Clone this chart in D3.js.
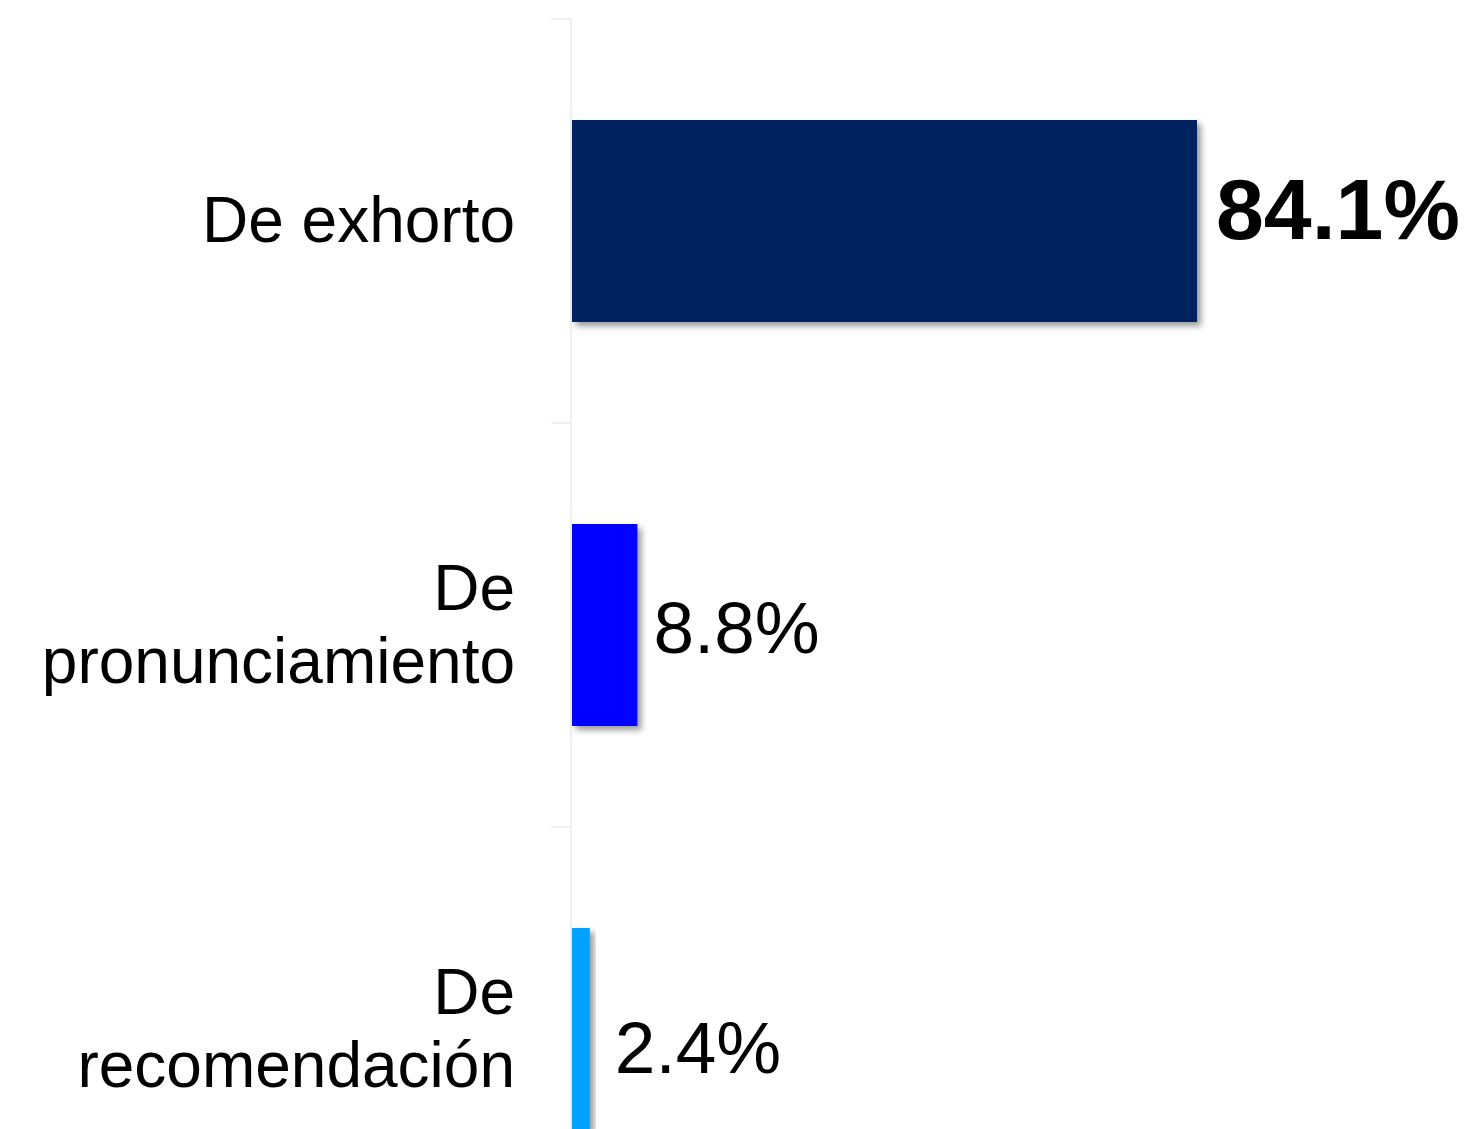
<!DOCTYPE html>
<html>
<head>
<meta charset="utf-8">
<script src="https://cdn.jsdelivr.net/npm/d3@7"></script>
<style>
    body { margin: 0; background: #fff; }
    text { font-family: "Liberation Sans", Arial, sans-serif; }
</style>
</head>
<body>
<div id="chart"></div>
<script>
// data
const categories = ['De exhorto', 'De pronunciamiento', 'De recomendación'];
const labelLines = [['De exhorto'], ['De', 'pronunciamiento'], ['De', 'recomendación']];
const values = [84.1, 8.8, 2.4];
const valueLabels = ['84.1%', '8.8%', '2.4%'];

// look
const colors = ['#03215f', '#0000ff', '#00a2ff'];
const labelNudge = [{dx: 19, dy: -13, size: 86, weight: 'bold'},
                    {dx: 16, dy: 2, size: 73, weight: 'normal'},
                    {dx: 25, dy: 18, size: 73, weight: 'normal'}];

const width = 1476,
    height = 1129;
const axisX = 571,
    plotTop = 19;

const svg = d3.select('#chart').append('svg')
    .attr('width', width)
    .attr('height', height);

// drop shadow for bars
const defs = svg.append('defs');
defs.append('filter')
    .attr('id', 'shadow')
    .attr('x', '-10%').attr('y', '-10%')
    .attr('width', '140%').attr('height', '130%')
    .append('feDropShadow')
    .attr('dx', 4)
    .attr('dy', 4)
    .attr('stdDeviation', 3)
    .attr('flood-color', '#000')
    .attr('flood-opacity', 0.4);

// scales
const y = d3.scaleBand()
    .domain(categories)
    .range([plotTop, plotTop + 404 * categories.length])
    .paddingInner(0.5)
    .paddingOuter(0.25);

const x = d3.scaleLinear()
    .domain([0, 100])
    .range([axisX + 1, axisX + 1 + 625 / 84.1 * 100]);

// axis line and ticks at band edges
const gap = (y.step() - y.bandwidth()) / 2;
svg.append('line')
    .attr('x1', axisX).attr('x2', axisX)
    .attr('y1', plotTop - 1).attr('y2', height)
    .attr('stroke', '#efefef')
    .attr('stroke-width', 2);

svg.selectAll('.tick')
    .data(categories)
    .enter().append('line')
    .attr('class', 'tick')
    .attr('x1', axisX - 20).attr('x2', axisX)
    .attr('y1', d => y(d) - gap)
    .attr('y2', d => y(d) - gap)
    .attr('stroke', '#efefef')
    .attr('stroke-width', 2);

// bars
svg.selectAll('.bar')
    .data(values)
    .enter().append('rect')
    .attr('class', 'bar')
    .attr('x', x(0))
    .attr('y', (d, i) => y(categories[i]))
    .attr('width', d => x(d) - x(0))
    .attr('height', y.bandwidth())
    .attr('fill', (d, i) => colors[i])
    .attr('filter', 'url(#shadow)');

// category labels
const lineH = 73;
const cats = svg.selectAll('.cat')
    .data(categories)
    .enter().append('text')
    .attr('class', 'cat')
    .attr('text-anchor', 'end')
    .style('font-size', '64px')
    .attr('fill', '#000');

cats.each(function (d, i) {
    const lines = labelLines[i];
    const mid = y(d) + y.bandwidth() / 2;
    const first = mid + 21 - (lines.length - 1) * lineH / 2;
    lines.forEach(function (t, j) {
        d3.select(this).append('tspan')
            .attr('x', axisX - 56)
            .attr('y', first + j * lineH)
            .text(t);
    }, this);
});

// value labels
svg.selectAll('.val')
    .data(values)
    .enter().append('text')
    .attr('class', 'val')
    .attr('x', (d, i) => x(d) + labelNudge[i].dx)
    .attr('y', (d, i) => y(categories[i]) + y.bandwidth() / 2 + labelNudge[i].size * 0.358 + labelNudge[i].dy)
    .style('font-size', (d, i) => labelNudge[i].size + 'px')
    .style('font-weight', (d, i) => labelNudge[i].weight)
    .attr('fill', '#000')
    .text((d, i) => valueLabels[i]);
</script>
</body>
</html>
